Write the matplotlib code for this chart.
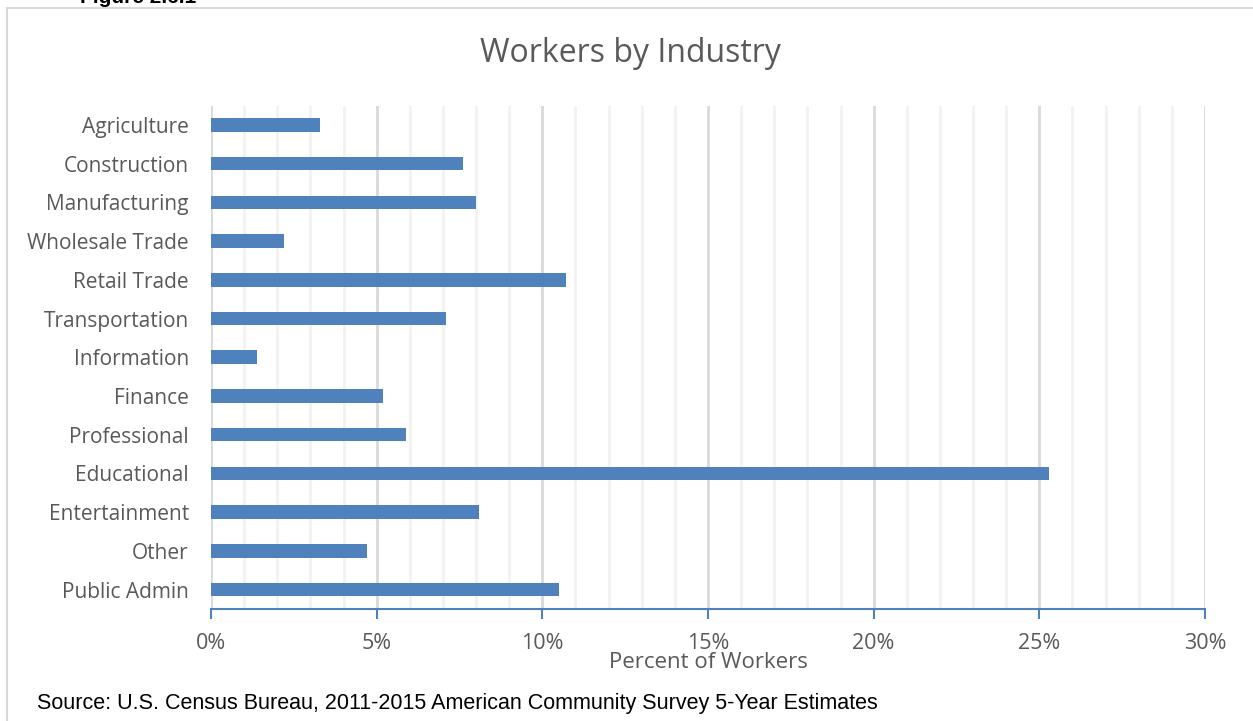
import matplotlib.pyplot as plt
from matplotlib.patches import Rectangle
from matplotlib.ticker import MultipleLocator, PercentFormatter

# Andel sysselsatte per næring (prosent)
industries = ['Agriculture', 'Construction', 'Manufacturing', 'Wholesale Trade',
              'Retail Trade', 'Transportation', 'Information', 'Finance',
              'Professional', 'Educational', 'Entertainment', 'Other', 'Public Admin']
percent = [3.3, 7.6, 8.0, 2.2, 10.7, 7.1, 1.4, 5.2, 5.9, 25.3, 8.1, 4.7, 10.5]

bar_color = '#4F81BD'
text_color = '#595959'
plt.rcParams['font.family'] = ['Open Sans', 'DejaVu Sans']

fig = plt.figure(figsize=(12.53, 7.21), dpi=100)

# Ramme rundt hele diagrammet
fig.patches.append(Rectangle((7 / 1253, -0.01), 1.0, 1 - 8 / 721 + 0.01,
                             transform=fig.transFigure, fill=False,
                             edgecolor='#D9D9D9', linewidth=1.5))

ax = fig.add_axes([211 / 1253, 112 / 721, 994 / 1253, 503.5 / 721])
ypos = list(range(len(industries)))
ax.barh(ypos, percent, height=0.35, color=bar_color, zorder=3)
ax.set_ylim(len(industries) - 0.5, -0.5)
ax.set_yticks(ypos)
ax.set_yticklabels(industries)
ax.set_xlim(0, 30)

ax.xaxis.set_major_locator(MultipleLocator(5))
ax.xaxis.set_minor_locator(MultipleLocator(1))
ax.xaxis.set_major_formatter(PercentFormatter(decimals=0))
ax.grid(which='minor', axis='x', color='#F2F2F2', linewidth=2, zorder=0)
ax.grid(which='major', axis='x', color='#D9D9D9', linewidth=2, zorder=1)

for side in ['top', 'right', 'left']:
    ax.spines[side].set_visible(False)
ax.spines['bottom'].set_color(bar_color)
ax.spines['bottom'].set_linewidth(1.5)
ax.tick_params(axis='x', which='major', direction='out', length=7, width=1.5,
               color=bar_color, labelcolor=text_color, labelsize=15.5, pad=10)
ax.tick_params(axis='x', which='minor', length=0)
ax.tick_params(axis='y', length=0, labelcolor=text_color, labelsize=15, pad=16)

ax.set_xlabel('Percent of Workers', color=text_color, fontsize=16, labelpad=-1)
fig.text(0.503, 1 - 53 / 721, 'Workers by Industry', ha='center', va='center',
         color=text_color, fontsize=23)
fig.text(37 / 1253, 1 - 704 / 721, 'Source: U.S. Census Bureau, 2011-2015 American Community Survey 5-Year Estimates',
         ha='left', va='center', fontsize=15.5, family='Liberation Sans', color='black')
fig.text(80 / 1253, 1 - 3 / 721, 'Figure 2.6.1', ha='left', va='baseline',
         fontsize=15, family='Liberation Sans', weight='bold', color='black')

fig.savefig('out.png', dpi=100)
